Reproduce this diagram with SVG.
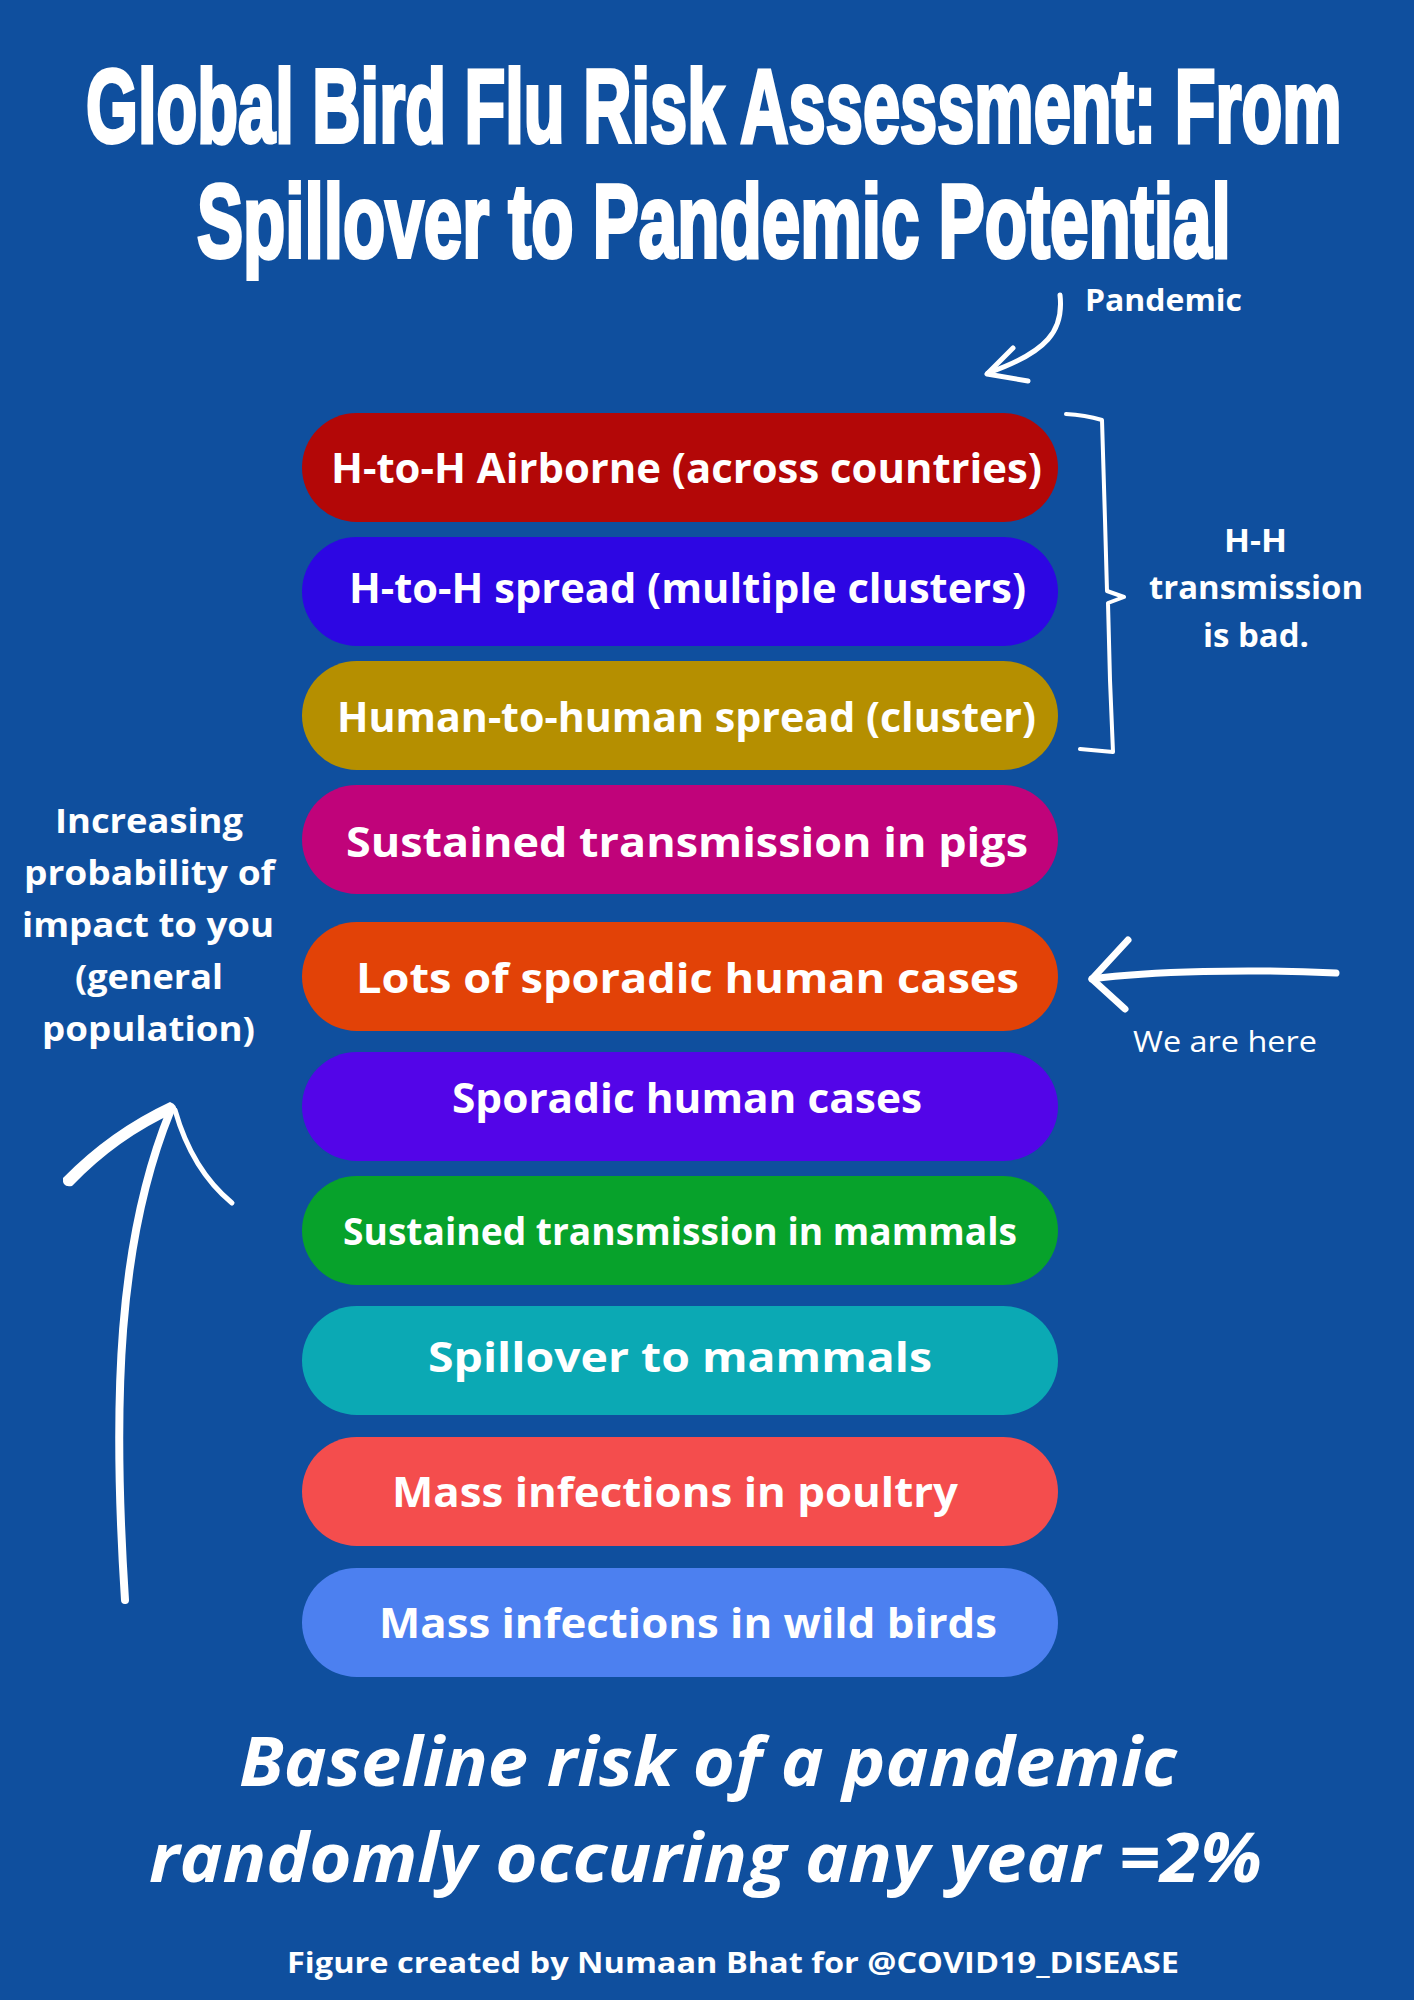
<svg xmlns="http://www.w3.org/2000/svg" width="1414" height="2000" viewBox="0 0 1414 2000">
<style>
.pill-t{font-family:"Open Sans","Liberation Sans",sans-serif;font-weight:700;font-size:42px;fill:#fff}
.lbl{font-family:"Open Sans","Liberation Sans",sans-serif;font-weight:700;fill:#fff}
.title{font-family:"Liberation Sans",Arial,sans-serif;font-weight:700;font-size:104px;fill:#fff;stroke:#fff;stroke-width:4}
.ln{fill:none;stroke:#fff;stroke-linecap:round;stroke-linejoin:round}
</style>
<rect width="1414" height="2000" fill="#0F4F9E"/>
<g id="title">
<text class="title" transform="translate(86 142) scale(0.64 1)" x="0" y="0" textLength="1962" lengthAdjust="spacingAndGlyphs">Global Bird Flu Risk Assessment: From</text>
<text class="title" transform="translate(197 257) scale(0.64 1)" x="0" y="0" textLength="1615" lengthAdjust="spacingAndGlyphs">Spillover to Pandemic Potential</text>
</g>
<g id="pills">
<g id="p1"><rect x="302" y="413" width="756" height="109" rx="54.5" fill="#B30707"/><text class="pill-t" x="331" y="483" textLength="711" lengthAdjust="spacingAndGlyphs">H-to-H Airborne (across countries)</text></g>
<g id="p2"><rect x="302" y="537" width="756" height="109" rx="54.5" fill="#2D06E3"/><text class="pill-t" x="349" y="603" textLength="677" lengthAdjust="spacingAndGlyphs">H-to-H spread (multiple clusters)</text></g>
<g id="p3"><rect x="302" y="661" width="756" height="109" rx="54.5" fill="#B58F00"/><text class="pill-t" x="337" y="732" textLength="699" lengthAdjust="spacingAndGlyphs">Human-to-human spread (cluster)</text></g>
<g id="p4"><rect x="302" y="785" width="756" height="109" rx="54.5" fill="#C0037A"/><text class="pill-t" x="346" y="857" textLength="682" lengthAdjust="spacingAndGlyphs">Sustained transmission in pigs</text></g>
<g id="p5"><rect x="302" y="922" width="756" height="109" rx="54.5" fill="#E24207"/><text class="pill-t" x="356" y="993" textLength="663" lengthAdjust="spacingAndGlyphs">Lots of sporadic human cases</text></g>
<g id="p6"><rect x="302" y="1052" width="756" height="109" rx="54.5" fill="#5305E8"/><text class="pill-t" x="452" y="1113" textLength="470" lengthAdjust="spacingAndGlyphs">Sporadic human cases</text></g>
<g id="p7"><rect x="302" y="1176" width="756" height="109" rx="54.5" fill="#07A22B"/><text class="pill-t" x="343" y="1245" textLength="674" lengthAdjust="spacingAndGlyphs" style="font-size:38px">Sustained transmission in mammals</text></g>
<g id="p8"><rect x="302" y="1306" width="756" height="109" rx="54.5" fill="#0BA9B4"/><text class="pill-t" x="428" y="1372" textLength="504" lengthAdjust="spacingAndGlyphs">Spillover to mammals</text></g>
<g id="p9"><rect x="302" y="1437" width="756" height="109" rx="54.5" fill="#F44D4D"/><text class="pill-t" x="392" y="1507" textLength="566" lengthAdjust="spacingAndGlyphs">Mass infections in poultry</text></g>
<g id="p10"><rect x="302" y="1568" width="756" height="109" rx="54.5" fill="#4C80F0"/><text class="pill-t" x="379" y="1638" textLength="618" lengthAdjust="spacingAndGlyphs">Mass infections in wild birds</text></g>
</g>
<g id="labels">
<text class="lbl" x="1085" y="311" font-size="30" textLength="157" lengthAdjust="spacingAndGlyphs">Pandemic</text>
<g id="hh" font-size="32">
<text class="lbl" x="1224" y="552" textLength="63" lengthAdjust="spacingAndGlyphs">H-H</text>
<text class="lbl" x="1149" y="599" textLength="214" lengthAdjust="spacingAndGlyphs">transmission</text>
<text class="lbl" x="1203" y="647" textLength="106" lengthAdjust="spacingAndGlyphs">is bad.</text>
</g>
<g id="incr" font-size="34">
<text class="lbl" x="55" y="833" textLength="188" lengthAdjust="spacingAndGlyphs">Increasing</text>
<text class="lbl" x="24" y="885" textLength="251" lengthAdjust="spacingAndGlyphs">probability of</text>
<text class="lbl" x="22" y="937" textLength="252" lengthAdjust="spacingAndGlyphs">impact to you</text>
<text class="lbl" x="75" y="989" textLength="148" lengthAdjust="spacingAndGlyphs">(general</text>
<text class="lbl" x="42" y="1041" textLength="213" lengthAdjust="spacingAndGlyphs">population)</text>
</g>
<text x="1133" y="1052" font-family="'Open Sans','Liberation Sans',sans-serif" font-size="30" fill="#fff" textLength="184" lengthAdjust="spacingAndGlyphs">We are here</text>
<g id="bottom" font-style="italic" font-size="68">
<text class="lbl" x="239" y="1786" textLength="938" lengthAdjust="spacingAndGlyphs">Baseline risk of a pandemic</text>
<text class="lbl" x="149" y="1882" textLength="1113" lengthAdjust="spacingAndGlyphs">randomly occuring any year =2%</text>
</g>
<text class="lbl" x="287" y="1973" font-size="29" textLength="892" lengthAdjust="spacingAndGlyphs">Figure created by Numaan Bhat for @COVID19_DISEASE</text>
</g>
<g id="connectors">
<path class="ln" stroke-width="5" d="M1060 295 C1064 330 1048 352 988 373"/>
<path class="ln" stroke-width="5" d="M1013 348 L987 374 L1028 381"/>
<path class="ln" stroke-width="4" d="M1066 414 Q1085 415 1102 420 L1105 520 L1107 591 L1124 597 L1108 603 L1110 680 L1113 752 L1080 749"/>
<path class="ln" stroke-width="7" d="M1336 973 C1250 969 1150 971 1092 979"/>
<path class="ln" stroke-width="7" d="M1128 940 L1092 979 L1125 1009"/>
<path class="ln" stroke-width="8" d="M125 1600 C112 1400 118 1240 170 1112"/>
<path d="M63 1178 Q110 1130 170 1102 Q178 1105 176 1112 Q118 1138 72 1186 Q62 1188 63 1178 Z" fill="#fff"/>
<path class="ln" stroke-width="5" d="M175 1110 Q192 1170 232 1203"/>
</g>
</svg>
